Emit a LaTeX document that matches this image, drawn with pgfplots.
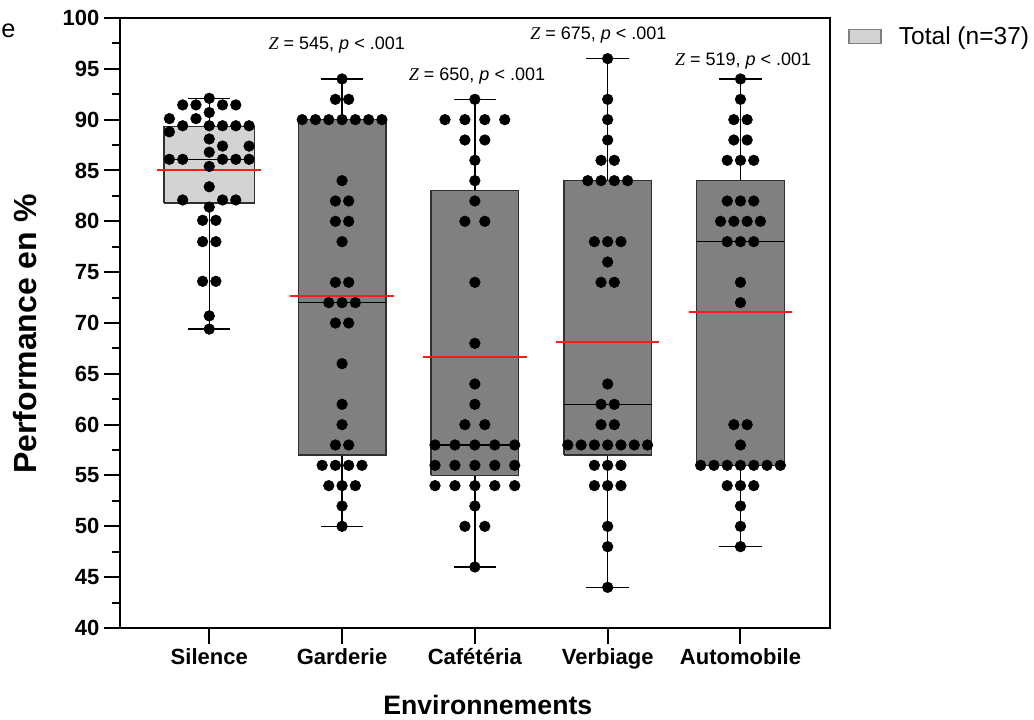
\documentclass[border=0pt]{standalone}
\usepackage{fontspec}
\setmainfont{Liberation Sans}
\newfontfamily\serifz{Liberation Serif}
\usepackage{pgfplots}
\pgfplotsset{compat=1.18}
\usepackage{pgfplotstable}

\definecolor{lightbox}{HTML}{D3D3D3}
\definecolor{darkbox}{HTML}{808080}
\definecolor{edge}{HTML}{303030}
\definecolor{meanred}{HTML}{FF1A1A}

% Silence (position 0)
\pgfplotstableread{
x y
0 92.1
-0.2 91.45
-0.1 91.45
0.1 91.45
0.2 91.45
0 90.7
-0.3 90.1
-0.1 90.1
-0.2 89.4
0 89.4
0.1 89.4
0.2 89.4
0.3 89.4
-0.3 88.8
0 88.1
0.1 87.4
0.3 87.4
0 86.8
-0.3 86.1
-0.2 86.1
0.1 86.1
0.2 86.1
0.3 86.1
0 85.4
0 83.4
-0.2 82.1
0.1 82.1
0.2 82.1
0 81.4
-0.05 80.1
0.05 80.1
-0.05 78.0
0.05 78.0
-0.05 74.1
0.05 74.1
0 70.7
0 69.4
}\silence

% Garderie (position 1)
\pgfplotstableread{
x y
1 94
0.95 92
1.05 92
0.7 90
0.8 90
0.9 90
1 90
1.1 90
1.2 90
1.3 90
1 84
0.95 82
1.05 82
0.95 80
1.05 80
1 78
0.95 74
1.05 74
0.9 72
1 72
1.1 72
0.95 70
1.05 70
1 66
1 62
1 60
0.95 58
1.05 58
0.85 56
0.95 56
1.05 56
1.15 56
0.9 54
1 54
1.1 54
1 52
1 50
}\garderie

% Cafeteria (position 2)
\pgfplotstableread{
x y
2 92
1.775 90
1.925 90
2.075 90
2.225 90
1.925 88
2.075 88
2 86
2 84
2 82
1.925 80
2.075 80
2 74
2 68
2 64
2 62
1.925 60
2.075 60
1.7 58
1.85 58
2 58
2.15 58
2.3 58
1.7 56
1.85 56
2 56
2.15 56
2.3 56
1.7 54
1.85 54
2 54
2.15 54
2.3 54
2 52
1.925 50
2.075 50
2 46
}\cafeteria

% Verbiage (position 3)
\pgfplotstableread{
x y
3 96
3 92
3 90
3 88
2.95 86
3.05 86
2.85 84
2.95 84
3.05 84
3.15 84
2.9 78
3 78
3.1 78
3 76
2.95 74
3.05 74
3 64
2.95 62
3.05 62
2.95 60
3.05 60
2.7 58
2.8 58
2.9 58
3 58
3.1 58
3.2 58
3.3 58
2.9 56
3 56
3.1 56
2.9 54
3 54
3.1 54
3 50
3 48
3 44
}\verbiage

% Automobile (position 4)
\pgfplotstableread{
x y
4 94
4 92
3.95 90
4.05 90
3.95 88
4.05 88
3.9 86
4 86
4.1 86
3.9 82
4 82
4.1 82
3.85 80
3.95 80
4.05 80
4.15 80
3.9 78
4 78
4.1 78
4 74
4 72
3.95 60
4.05 60
4 58
3.7 56
3.8 56
3.9 56
4 56
4.1 56
4.2 56
4.3 56
3.9 54
4 54
4.1 54
4 52
4 50
4 48
}\automobile

% box statistics: position, half width, lower whisker, Q1, median, Q3, upper whisker, mean
% Silence    0 0.34 69.4 81.8 86.1 89.3 92.1 85.0
% Garderie   1 0.33 50   57   72   90   94   72.7
% Cafeteria  2 0.33 46   55   58   83   92   66.7
% Verbiage   3 0.33 44   57   62   84   96   68.1
% Automobile 4 0.33 48   56   78   84   94   71.1

\pgfplotsset{
  whisk/.style={black, line width=1pt, forget plot},
  boxs/.style={draw=edge, line width=1pt, line join=miter, forget plot},
  med/.style={black, line width=0.8pt, forget plot},
  meanl/.style={meanred, line width=1.5pt, forget plot},
  dots/.style={only marks, mark=*, mark size=4pt, mark options={fill=black, draw=black}, forget plot},
}

\begin{document}
\begin{tikzpicture}
\begin{axis}[
  scale only axis,
  width=532.5pt, height=457.5pt,
  xmin=-0.672, xmax=4.674,
  ymin=40, ymax=100,
  axis line style={line width=1.5pt, black},
  xtick={0,1,2,3,4},
  xticklabels={Silence,Garderie,Caf\'et\'eria,Verbiage,Automobile},
  ytick={40,45,...,100},
  minor y tick num=1,
  tick align=outside,
  tick pos=left,
  major tick length=12pt,
  minor tick length=6pt,
  tick style={line width=1.5pt, black},
  ticklabel style={font=\fontsize{16.5}{18}\selectfont\bfseries},
  /pgf/number format/assume math mode=true,
  xlabel={Environnements},
  ylabel={Performance en \%},
  xlabel style={font=\fontsize{20}{22}\selectfont\bfseries, at={(rel axis cs:0.518,-0.1262)}, anchor=center},
  ylabel style={font=\fontsize{24}{26}\selectfont\bfseries, at={(rel axis cs:-0.1333,0.482)}, anchor=center},
  clip=false,
  legend style={draw=none, fill=none, at={(rel axis cs:1.02,0.995)}, anchor=north west,
    font=\fontsize{18.4}{21}\selectfont, legend cell align=left},
  legend image code/.code={\draw[#1] (0pt,-5.25pt) rectangle (24pt,5.25pt);},
]
\addlegendimage{fill=lightbox, draw=gray, line width=0.8pt}
\addlegendentry{\hspace{11pt}Total (n=37)}

% whiskers
\addplot[whisk] coordinates {(0,69.4) (0,92.1)};
\addplot[whisk] coordinates {(-0.16,69.4) (0.16,69.4)};
\addplot[whisk] coordinates {(-0.16,92.1) (0.16,92.1)};
\addplot[whisk] coordinates {(1,50) (1,94)};
\addplot[whisk] coordinates {(0.84,50) (1.16,50)};
\addplot[whisk] coordinates {(0.84,94) (1.16,94)};
\addplot[whisk] coordinates {(2,46) (2,92)};
\addplot[whisk] coordinates {(1.84,46) (2.16,46)};
\addplot[whisk] coordinates {(1.84,92) (2.16,92)};
\addplot[whisk] coordinates {(3,44) (3,96)};
\addplot[whisk] coordinates {(2.84,44) (3.16,44)};
\addplot[whisk] coordinates {(2.84,96) (3.16,96)};
\addplot[whisk] coordinates {(4,48) (4,94)};
\addplot[whisk] coordinates {(3.84,48) (4.16,48)};
\addplot[whisk] coordinates {(3.84,94) (4.16,94)};

% boxes
\addplot[boxs, fill=lightbox] coordinates {(-0.34,81.8) (0.34,81.8) (0.34,89.3) (-0.34,89.3) (-0.34,81.8)};
\addplot[boxs, fill=darkbox] coordinates {(0.67,57) (1.33,57) (1.33,90) (0.67,90) (0.67,57)};
\addplot[boxs, fill=darkbox] coordinates {(1.67,55) (2.33,55) (2.33,83) (1.67,83) (1.67,55)};
\addplot[boxs, fill=darkbox] coordinates {(2.67,57) (3.33,57) (3.33,84) (2.67,84) (2.67,57)};
\addplot[boxs, fill=darkbox] coordinates {(3.67,56) (4.33,56) (4.33,84) (3.67,84) (3.67,56)};

% medians
\addplot[med] coordinates {(-0.34,86.1) (0.34,86.1)};
\addplot[med] coordinates {(0.67,72) (1.33,72)};
\addplot[med] coordinates {(1.67,58) (2.33,58)};
\addplot[med] coordinates {(2.67,62) (3.33,62)};
\addplot[med] coordinates {(3.67,78) (4.33,78)};

% individual scores
\addplot[dots] table[x=x,y=y] {\silence};
\addplot[dots] table[x=x,y=y] {\garderie};
\addplot[dots] table[x=x,y=y] {\cafeteria};
\addplot[dots] table[x=x,y=y] {\verbiage};
\addplot[dots] table[x=x,y=y] {\automobile};

% means
\addplot[meanl] coordinates {(-0.39,85.0) (0.39,85.0)};
\addplot[meanl] coordinates {(0.61,72.7) (1.39,72.7)};
\addplot[meanl] coordinates {(1.61,66.7) (2.39,66.7)};
\addplot[meanl] coordinates {(2.61,68.1) (3.39,68.1)};
\addplot[meanl] coordinates {(3.61,71.1) (4.39,71.1)};

\node[font=\fontsize{13.5}{15}\selectfont] at (axis cs:0.96,97.35) {{\serifz\itshape Z} = 545, \textit{p} < .001};
\node[font=\fontsize{13.5}{15}\selectfont] at (axis cs:2.016,94.3) {{\serifz\itshape Z} = 650, \textit{p} < .001};
\node[font=\fontsize{13.5}{15}\selectfont] at (axis cs:2.93,98.33) {{\serifz\itshape Z} = 675, \textit{p} < .001};
\node[font=\fontsize{13.5}{15}\selectfont] at (axis cs:4.02,95.8) {{\serifz\itshape Z} = 519, \textit{p} < .001};

\node[font=\fontsize{19}{22}\selectfont, anchor=west, inner sep=0pt] at (rel axis cs:-0.1676,0.979) {e};
\end{axis}
\pgfresetboundingbox
\path[use as bounding box] ([xshift=-90pt,yshift=-69pt]current axis.south west) rectangle ([xshift=153pt,yshift=13.5pt]current axis.north east);
\end{tikzpicture}
\end{document}
